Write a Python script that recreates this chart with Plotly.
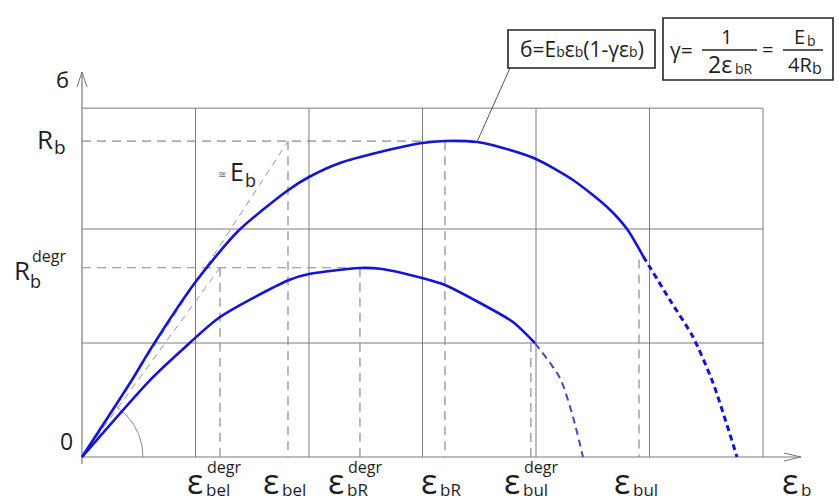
import numpy as np
import plotly.graph_objects as go

# ---------------- data (strain / stress in grid units) ----------------
grid_x = [0, 1, 2, 3, 4, 5, 6]
grid_y = [0, 1, 2, 3.06]

Rb = 2.77
Rb_degr = 1.66
eps_bel_degr = 1.216
eps_bel = 1.815
eps_bR_degr = 2.449
eps_bR = 3.198
eps_bul_degr = 3.99
eps_bul = 4.925

# upper (full strength) curve
upper_eps = [0, 0.44, 0.60, 1.0, 1.374, 1.815, 2.0, 2.273, 2.626, 2.996, 3.198,
             3.48, 3.709, 4.0, 4.326, 4.626, 4.802, 4.943]
upper_sig = [0, 0.675, 0.94, 1.535, 1.98, 2.34, 2.456, 2.579, 2.675, 2.754, 2.772,
             2.763, 2.711, 2.614, 2.43, 2.193, 2.0, 1.763]
upper_tail_eps = [4.943, 5.18, 5.383, 5.56, 5.771]
upper_tail_sig = [1.763, 1.377, 1.053, 0.649, 0.0]

# lower (degraded) curve
lower_eps = [0, 0.60, 0.881, 1.216, 1.824, 2.0, 2.449, 2.643, 2.996, 3.198,
             3.507, 3.797, 3.99]
lower_sig = [0, 0.675, 0.939, 1.228, 1.553, 1.605, 1.658, 1.649, 1.570, 1.509,
             1.351, 1.184, 1.0]
lower_tail_eps = [3.99, 4.211, 4.326, 4.414]
lower_tail_sig = [1.0, 0.693, 0.351, 0.0]

# ---------------- geometry of the drawing ----------------
W, H = 839, 503
X0, Y0 = 82, 457          # pixel position of origin
SX, SY = 113.5, 114.0     # pixels per grid unit


def dx(p):
    return (p - X0) / SX


def dy(p):
    return (Y0 - p) / SY


GRID = "#7a7a7a"
DASH = "#8a8a8a"
BLUE = "#1414d2"
TXT = "#1e1e1e"
FONT = "Open Sans"

fig = go.Figure()


def seg(xs, ys, color, width, dash="solid", shape="linear"):
    fig.add_trace(go.Scatter(x=xs, y=ys, mode="lines",
                             line=dict(color=color, width=width, dash=dash,
                                       shape=shape, smoothing=0.7),
                             hoverinfo="skip", showlegend=False))


# grid
gx_max, gy_max = grid_x[-1], grid_y[-1]
for gx in grid_x[1:]:
    seg([gx, gx], [0, gy_max], GRID, 1)
for gy in grid_y[1:]:
    seg([0, gx_max], [gy, gy], GRID, 1)

# axes with open arrow heads
y_top = dy(72)
x_end = dx(801)
seg([0, 0], [dy(464), y_top], GRID, 1.2)
seg([0, x_end], [0, 0], GRID, 1.2)
seg([-5 / SX, 0, 5 / SX], [y_top - 15 / SY, y_top, y_top - 15 / SY], GRID, 1)
seg([x_end - 17 / SX, x_end, x_end - 17 / SX], [4 / SY, 0, -4 / SY], GRID, 1)

# dashed guides
DP = "9px,6px"
seg([0, eps_bR], [Rb, Rb], DASH, 1.2, DP)
seg([0, eps_bR_degr], [Rb_degr, Rb_degr], DASH, 1.2, DP)
seg([eps_bel, eps_bel], [Rb, 0], DASH, 1.2, DP)
seg([eps_bR, eps_bR], [Rb, 0], DASH, 1.2, DP)
seg([eps_bel_degr, eps_bel_degr], [Rb_degr, 0], DASH, 1.2, DP)
seg([eps_bR_degr, eps_bR_degr], [Rb_degr, 0], DASH, 1.2, DP)
seg([eps_bul_degr - 4 / SX, eps_bul_degr - 4 / SX], [lower_tail_sig[0], 0], DASH, 1.2, DP)
seg([eps_bul - 2 / SX, eps_bul - 2 / SX], [upper_tail_sig[0] - 0.03, 0], DASH, 1.2, DP)
# secants
seg([0, eps_bel], [0, Rb], "#9a9a9a", 1, "7px,5px")
seg([0, eps_bel_degr], [0, Rb_degr], "#9a9a9a", 1, "7px,5px")

# angle arc
t = np.linspace(0, np.radians(55), 30)
seg(61 * np.cos(t) / SX, 61 * np.sin(t) / SY, "#8a8a8a", 1)

# curves
seg(upper_eps, upper_sig, BLUE, 2.6, shape="spline")
seg(upper_tail_eps, upper_tail_sig, BLUE, 3, "6px,4px", shape="spline")
seg(lower_eps, lower_sig, BLUE, 2.6, shape="spline")
seg(lower_tail_eps, lower_tail_sig, "#4646c8", 2, "7px,5px", shape="spline")

# leader line from curve to formula box
seg([upper_eps[11], dx(510)], [upper_sig[11], dy(68)], "#555555", 1)

shapes = []
# formula boxes
shapes.append(dict(type="rect", xref="paper", yref="paper",
                   x0=508 / W, x1=655 / W, y0=1 - 68 / H, y1=1 - 30 / H,
                   line=dict(color="#222222", width=1.6)))
shapes.append(dict(type="rect", xref="paper", yref="paper",
                   x0=663 / W, x1=833 / W, y0=1 - 80 / H, y1=1 - 18 / H,
                   line=dict(color="#222222", width=1.6)))
# fraction bars
for a, b in [(702, 757), (783, 823)]:
    shapes.append(dict(type="line", xref="paper", yref="paper",
                       x0=a / W, x1=b / W, y0=1 - 50 / H, y1=1 - 50 / H,
                       line=dict(color="#222222", width=1.3)))

ann = []


def txt(x, y, s, size, xanchor="center", color=TXT, pad=1):
    ann.append(dict(xref="paper", yref="paper", x=x / W, y=1 - y / H, text=s,
                    showarrow=False, xanchor=xanchor, yanchor="middle",
                    borderpad=pad,
                    font=dict(family=FONT, size=size, color=color)))


def small(s, size=14):
    return "<span style='font-size:%dpx'>%s</span>" % (size, s)


# formula 1
txt(582, 49, "б=E" + small("b") + "ε" + small("b") + "(1-γε" + small("b") + ")", 21)
# formula 2
txt(681, 50, "γ=", 21)
txt(726, 36, "1", 20)
txt(706, 64, "2ε", 23, "left")
txt(733, 69, "bR", 14, "left")
txt(767, 49, "=", 20)
txt(799, 37, "E", 20)
txt(805, 40, "b", 14, "left")
txt(786, 65, "4R", 20, "left")
txt(810, 68, "b", 16, "left")

# y axis labels
txt(62, 79, "б", 22)
txt(45, 139, "R", 26)
txt(52, 147, "b", 19, "left")
txt(22, 270, "R", 26)
txt(29, 281, "b", 18, "left", pad=0)
txt(31, 256, "degr", 16, "left", pad=0)
txt(66, 441, "0", 23)
# secant label
txt(222, 174, "≅", 10, "center", "#666666")
txt(237, 171, "E", 25)
txt(243, 180, "b", 18, "left")

# x axis labels
eps_lbls = [
    (195, "bel", "degr"),
    (271, "bel", None),
    (336, "bR", "degr"),
    (429, "bR", None),
    (512, "bul", "degr"),
    (622, "bul", None),
    (790, "b", None),
]
for cx, sub, sup in eps_lbls:
    txt(cx, 481, "ε", 34, pad=0)
    txt(cx + 10, 489, sub, 17, "left", pad=0)
    if sup:
        txt(cx + 11, 467, sup, 16, "left", pad=0)

fig.update_layout(
    width=W, height=H, margin=dict(l=0, r=0, t=0, b=0),
    plot_bgcolor="white", paper_bgcolor="white",
    xaxis=dict(range=[dx(0), dx(W)], visible=False, fixedrange=True),
    yaxis=dict(range=[dy(H), dy(0)], visible=False, fixedrange=True),
    shapes=shapes, annotations=ann, showlegend=False, hovermode=False,
)

fig.write_html("out.html",
               config={"displayModeBar": False, "staticPlot": True},
               post_script="document.body.style.margin='0';"
                           "document.body.style.overflow='hidden';")
